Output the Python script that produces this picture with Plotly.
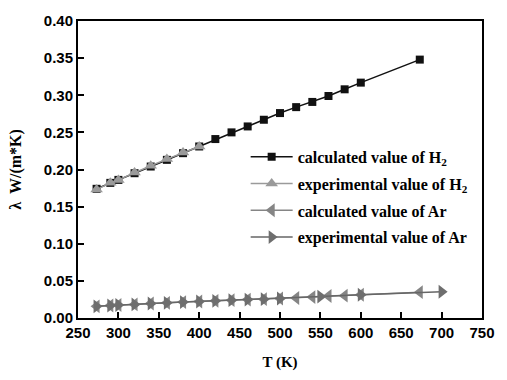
import plotly.graph_objects as go

T_calc_H2 = [273, 290, 300, 320, 340, 360, 380, 400, 420, 440, 460, 480, 500, 520, 540, 560, 580, 600, 673]
lam_calc_H2 = [0.174, 0.182, 0.186, 0.195, 0.204, 0.213, 0.222, 0.231, 0.241, 0.250, 0.258, 0.267,
               0.276, 0.284, 0.291, 0.299, 0.308, 0.317, 0.348]
T_exp_H2 = [273, 290, 300, 320, 340, 360, 380, 400]
lam_exp_H2 = [0.173, 0.182, 0.186, 0.196, 0.205, 0.214, 0.223, 0.231]

T_calc_Ar = [273, 290, 300, 320, 340, 360, 380, 400, 420, 440, 460, 480, 500, 520, 540, 560, 580, 600, 673]
lam_calc_Ar = [0.0157, 0.0168, 0.0175, 0.0183, 0.0195, 0.0204, 0.0214, 0.0222, 0.0231, 0.0240, 0.0248,
               0.0254, 0.0262, 0.0270, 0.0282, 0.0297, 0.0301, 0.0313, 0.0348]
T_exp_Ar = [273, 290, 300, 320, 340, 360, 380, 400, 420, 440, 460, 480, 500, 550, 600, 700]
lam_exp_Ar = [0.0157, 0.0168, 0.0175, 0.0183, 0.0195, 0.0204, 0.0214, 0.0222, 0.0231, 0.0240, 0.0248,
              0.0254, 0.0262, 0.0288, 0.0313, 0.0353]

x_ticks = [250, 300, 350, 400, 450, 500, 550, 600, 650, 700, 750]
y_ticks = [0.00, 0.05, 0.10, 0.15, 0.20, 0.25, 0.30, 0.35, 0.40]

fig = go.Figure()
fig.add_trace(go.Scatter(x=T_calc_H2, y=lam_calc_H2, mode="lines+markers",
                         name="<b>calculated value of H<sub>2</sub></b>", legendgroup="a",
                         line=dict(color="#111111", width=1.5),
                         marker=dict(symbol="square", size=8, color="#111111")))
fig.add_trace(go.Scatter(x=T_exp_H2, y=lam_exp_H2, mode="lines+markers",
                         name="<b>experimental value of H<sub>2</sub></b>", legendgroup="b",
                         line=dict(color="#9a9a9a", width=1.5),
                         marker=dict(symbol="triangle-up", size=11, color="#9a9a9a")))
fig.add_trace(go.Scatter(x=T_calc_Ar, y=lam_calc_Ar, mode="lines+markers",
                         name="<b>calculated value of Ar</b>", legendgroup="c",
                         line=dict(color="#858585", width=1.5),
                         marker=dict(symbol="triangle-left", size=12, color="#858585")))
fig.add_trace(go.Scatter(x=T_exp_Ar, y=lam_exp_Ar, mode="lines+markers",
                         name="<b>experimental value of Ar</b>", legendgroup="d",
                         line=dict(color="#666666", width=1.5),
                         marker=dict(symbol="triangle-right", size=12, color="#6e6e6e")))

axis_common = dict(showline=True, linecolor="black", linewidth=2, mirror=True,
                   ticks="inside", ticklen=6, tickwidth=1.5, tickcolor="black",
                   showgrid=False, zeroline=False,
                   tickfont=dict(family="Liberation Sans", size=15, color="black", weight="bold"))

fig.update_xaxes(range=[250, 750], tickvals=x_ticks, ticktext=["<b>%d</b>" % v for v in x_ticks],
                 title=dict(text="<b>T (K)</b>", standoff=16,
                            font=dict(family="Liberation Serif", size=15, color="black")),
                 **axis_common)
fig.update_yaxes(range=[0, 0.40], tickvals=y_ticks, ticktext=["<b>%.2f</b>" % v for v in y_ticks],
                 title=dict(text="<b>λ  W/(m*K)</b>", standoff=18,
                            font=dict(family="Liberation Serif", size=16, color="black")),
                 **axis_common)

fig.update_layout(
    width=507, height=380,
    margin=dict(l=78, r=16, t=20, b=57),
    paper_bgcolor="white", plot_bgcolor="white",
    showlegend=True,
    legend=dict(x=0.415, y=0.60, xanchor="left", yanchor="top",
                bgcolor="rgba(0,0,0,0)", borderwidth=0,
                itemwidth=42, tracegroupgap=3,
                font=dict(family="Liberation Serif", size=16, color="black", weight="bold")),
)

fig.write_html("out.html", config={"displayModeBar": False},
               post_script="document.body.style.margin='0';document.body.style.padding='0';")
